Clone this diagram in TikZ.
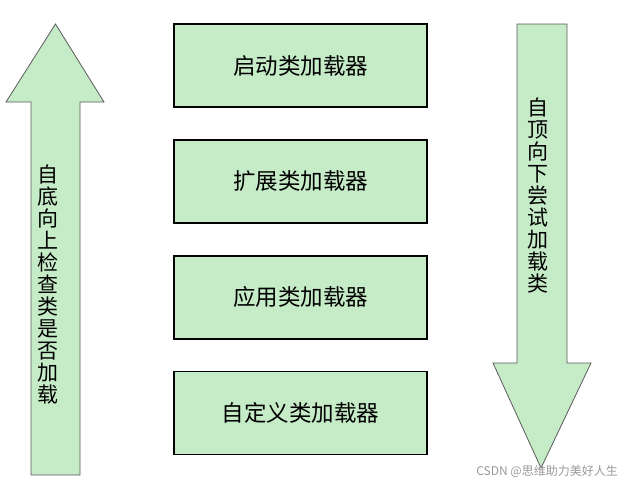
\documentclass[tikz,border=0pt]{standalone}
\usepackage{fontspec}
\setmainfont{Noto Sans CJK SC}
\usetikzlibrary{positioning}
\definecolor{loadergreen}{RGB}{198,235,199}
\definecolor{arrowedge}{RGB}{90,90,90}

\begin{document}
\begin{tikzpicture}[
  x=1pt, y=-1pt,
  node distance=31pt,
  loader/.style={draw, line width=1.8pt, fill=loadergreen, minimum width=253pt, minimum height=83pt,
    font=\fontsize{22.5}{22.5}\selectfont},
  bigarrow/.style={draw=arrowedge, line width=0.8pt, fill=loadergreen},
  vtext/.style={align=center, inner sep=0pt, font=\fontsize{21}{22}\selectfont}
]
\useasboundingbox (0,0) rectangle (624,483);

% the two direction arrows
\draw[bigarrow] (55.5,24) -- (104,102) -- (80,102) -- (80,475) -- (31,475) -- (31,102) -- (6,102) -- cycle;
\draw[bigarrow] (517,24) -- (567,24) -- (567,363) -- (591,363) -- (541,468) -- (493,363) -- (517,363) -- cycle;

\node[vtext] (up) at (48,285) {自\\底\\向\\上\\检\\查\\类\\是\\否\\加\\载};
\node[vtext] (down) at (538,195) {自\\顶\\向\\下\\尝\\试\\加\\载\\类};

% loaders
\node[loader] (boot) at (300.5,65.5) {启动类加载器};
\node[loader, below=of boot] (ext) {扩展类加载器};
\node[loader, below=of ext] (app) {应用类加载器};
\node[loader, below=of app] (custom) {自定义类加载器};

\node[text=black!40, font=\fontsize{12}{12}\selectfont, anchor=east, inner sep=0pt] (mark) at (618,471) {CSDN @思维助力美好人生};

\end{tikzpicture}
\end{document}
